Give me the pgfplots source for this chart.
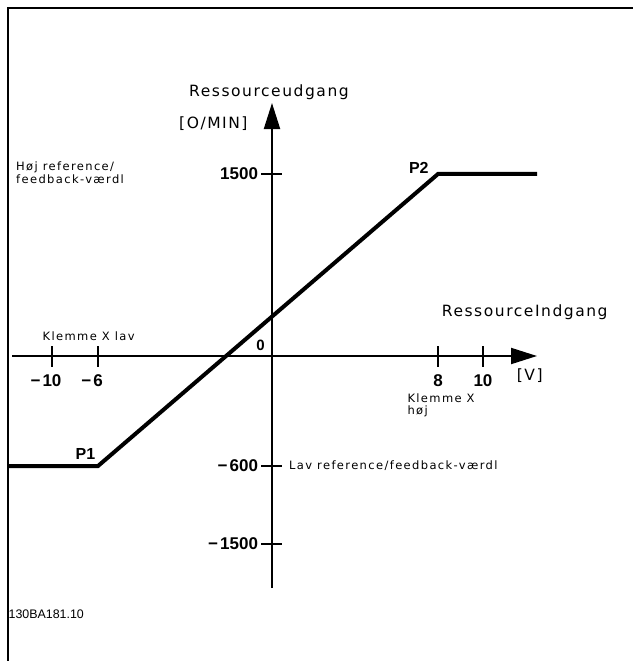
\documentclass[border=0pt]{standalone}
\usepackage{fontspec}
\setmainfont{Liberation Sans}
\newfontfamily\vfontb[LetterSpace=10]{DejaVu Sans}
\newfontfamily\vfonts[LetterSpace=12]{DejaVu Sans}
\usepackage{pgfplots}
\pgfplotsset{compat=1.18}
\usetikzlibrary{arrows.meta}

\newcommand\bigtxt{\vfontb\fontsize{15.5bp}{18bp}\selectfont}
\newcommand\smalltxt{\vfonts\fontsize{11.5bp}{13bp}\selectfont}
\newcommand\numtxt{\fontsize{17bp}{20bp}\selectfont\bfseries}
\newcommand\mn{−\kern2bp}

\begin{document}
\begin{tikzpicture}[x=1bp,y=1bp]
\useasboundingbox (-272,-305) rectangle (361,356);
% frame, cut off at right and bottom
\draw[line width=2bp] (-264,-320) -- (-264,347.5) -- (380,347.5);
\begin{axis}[
  anchor=origin, at={(0,0)},
  x=1bp, y=1bp,
  disabledatascaling,
  % schematic axes: piecewise scale
  x coord trafo/.code={\pgfmathparse{((#1)<=-10) ? (-220+10.75*((#1)+10)) : (((#1)<=-6) ? (-174+11.5*((#1)+6)) : (((#1)<=0) ? (29*(#1)) : (((#1)<=8) ? (20.75*(#1)) : (166+22.5*((#1)-8)))))}},
  y coord trafo/.code={\pgfmathparse{((#1)<=-600) ? (-110+0.086667*((#1)+600)) : (((#1)<=0) ? (0.183333*(#1)) : (0.121333*(#1)))}},
  xmin=-13.72, xmax=12.4, ymin=-2008, ymax=2085,
  axis lines=middle,
  axis line style={line width=2bp, -{Triangle[length=26bp,width=16bp]}},
  xtick={-10,-6,8,10}, ytick={-1500,-600,1500},
  xticklabels={\llap{\mn}10,\llap{\mn}6,8,10},
  yticklabels={\mn1500,\mn600,1500},
  tick align=center, major tick length=21bp,
  tick style={line width=1.2bp, black},
  ticklabel style={font=\numtxt},
  xticklabel style={yshift=-5bp},
  clip=false,
]
\addplot[line width=4bp] coordinates {(-14,-600) (-6,-600) (8,1500) (12.4,1500)};
\end{axis}
\begin{scope}[every node/.style={inner sep=0pt}]
\node[anchor=base west] at (-83,259) {\bigtxt Ressourceudgang};
\node[anchor=base west] at (-93,227.5) {\bigtxt [O/MIN]};
\node[anchor=base west] at (169.7,39) {\bigtxt RessourceIndgang};
\node[anchor=base west] at (244.7,-24.5) {\bigtxt [V]};
\node[anchor=base west] at (-256,185) {\smalltxt Høj reference/};
\node[anchor=base west] at (-256,172) {\smalltxt feedback-værdl};
\node[anchor=base west] at (-229.5,15.5) {\smalltxt Klemme X lav};
\node[anchor=base west] at (135.3,-46) {\smalltxt Klemme X};
\node[anchor=base west] at (135.3,-58.5) {\smalltxt høj};
\node[anchor=base west] at (17,-113.5) {\smalltxt Lav reference/feedback-værdl};
\node at (146.8,188.5) {\fontsize{16bp}{18bp}\selectfont\bfseries P2};
\node at (-186.5,-98) {\fontsize{16bp}{18bp}\selectfont\bfseries P1};
\node at (-11.5,10.5) {\fontsize{15bp}{18bp}\selectfont\bfseries 0};
\node[anchor=base west] at (-263.5,-262) {\fontsize{12.4bp}{14bp}\selectfont 130BA181.10};
\end{scope}
\end{tikzpicture}
\end{document}
